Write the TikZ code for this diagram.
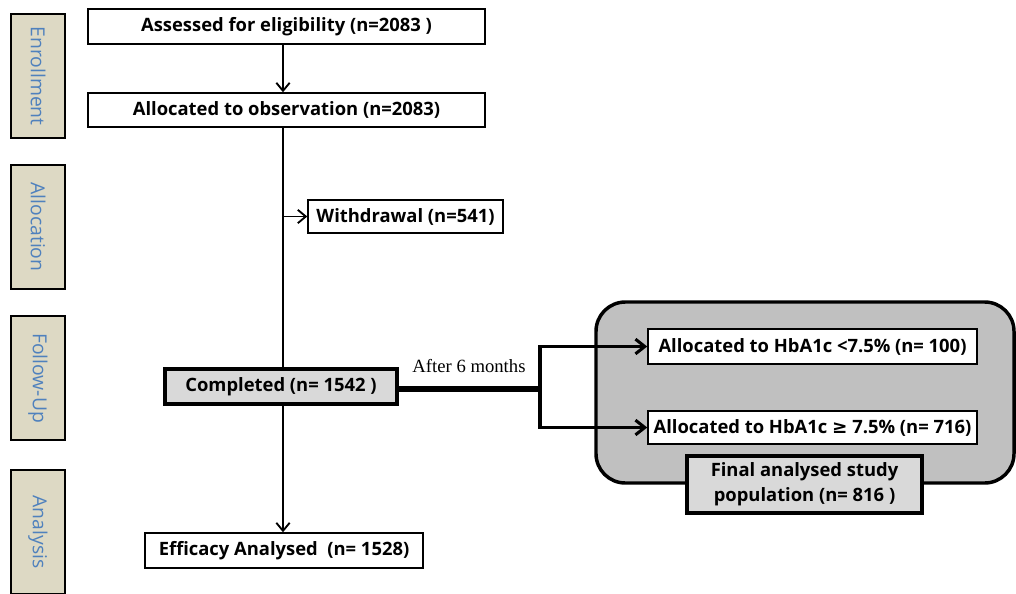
\documentclass[tikz,border=0pt]{standalone}
\usepackage{fontspec}
\setmainfont{Open Sans}
\newfontfamily\serifa{Liberation Serif}
\newfontfamily\symf{DejaVu Sans}
\usetikzlibrary{arrows.meta}
\definecolor{tanbg}{HTML}{DDD9C4}
\definecolor{sideblue}{HTML}{4F81BD}
\definecolor{boxgrey}{HTML}{D9D9D9}
\definecolor{bggrey}{HTML}{C0C0C0}
\tikzset{
  sidebox/.style={draw=black, line width=1.5pt, fill=tanbg, minimum width=54*0.75pt, minimum height=124*0.75pt, inner sep=0pt},
  sidetext/.style={text=sideblue, font=\fontsize{14.5}{16}\selectfont, rotate=-90},
  mainbox/.style={draw=black, line width=1.1pt, fill=white, inner sep=0pt, font=\bfseries\fontsize{13.8}{18.5}\selectfont, align=center},
  thickbox/.style={mainbox, line width=3pt, fill=boxgrey},
  medbox/.style={mainbox, line width=2.3pt, fill=boxgrey},
  thinarrow/.style={line width=1.4pt, -{Straight Barb[length=6pt,width=10pt,line width=1.4pt]}},
  fatarrow/.style={line width=2.3pt, -{Straight Barb[length=7pt,width=11pt,line width=2.3pt]}},
}
\begin{document}
\begin{tikzpicture}[x=0.75pt,y=-0.75pt]
\useasboundingbox (0,0) rectangle (1016,593);
% side labels
\begin{scope}
\clip (0,0) rectangle (1016,593);
\node[sidebox] (s1) at (38,76) {};
\node[sidetext] at (s1) {Enrollment};
\node[sidebox] (s2) at (38,227) {};
\node[sidetext] at (s2) {Allocation};
\node[sidebox] (s3) at (38,378) {};
\node[sidetext] at (s3) {Follow-Up};
\node[sidebox] (s4) at (38,532) {};
\node[sidetext] at (s4) {Analysis};
% grey panel
\draw[line width=2.6pt, fill=bggrey, rounded corners=22pt] (596,302) rectangle (1014,483);
\end{scope}
% main boxes
\node[mainbox, minimum width=397*0.75pt, minimum height=35*0.75pt] (assess) at (286.5,26.5) {Assessed for eligibility (n=2083 )};
\node[mainbox, minimum width=397*0.75pt, minimum height=34*0.75pt] (alloc) at (286.5,110) {Allocated to observation (n=2083)};
\node[mainbox, minimum width=195*0.75pt, minimum height=33*0.75pt] (withd) at (405.5,216.5) {Withdrawal (n=541)};
\node[thickbox, minimum width=232*0.75pt, minimum height=35*0.75pt] (compl) at (281,386.5) {Completed (n= 1542 )};
\node[mainbox, minimum width=278*0.75pt, minimum height=35*0.75pt] (effic) at (284,550.5) {Efficacy Analysed~~(n= 1528)};
\node[mainbox, minimum width=329*0.75pt, minimum height=35*0.75pt] (low) at (812.5,346.5) {Allocated to HbA1c <7.5\% (n= 100)};
\node[mainbox, minimum width=329*0.75pt, minimum height=33*0.75pt] (high) at (812.5,427.5) {Allocated to HbA1c {\symf\bfseries ≥} 7.5\% (n= 716)};
\node[medbox, minimum width=235*0.75pt, minimum height=57*0.75pt] (final) at (804.5,484.5) {Final analysed study\\population (n= 816 )};
% connectors
\coordinate (vx) at (283,0);
\draw[thinarrow] (assess.south -| vx) -- (alloc.north -| vx);
\draw[line width=1.4pt] (alloc.south -| vx) -- (compl.north -| vx);
\coordinate (wy) at (0,216.5);
\draw[thinarrow] (wy -| vx) -- (withd.west);
\draw[thinarrow] (compl.south -| vx) -- (effic.north -| vx);
\coordinate (split) at (540,389);
\draw[line width=4.5pt] (compl.east |- split) -- (split);
\node[font=\serifa\fontsize{14}{16}\selectfont, anchor=south] (after) at (469,377) {After 6 months};
\draw[fatarrow, line cap=rect] (split) |- (low.west);
\draw[fatarrow, line cap=rect] (split) |- (high.west);
\end{tikzpicture}
\end{document}
